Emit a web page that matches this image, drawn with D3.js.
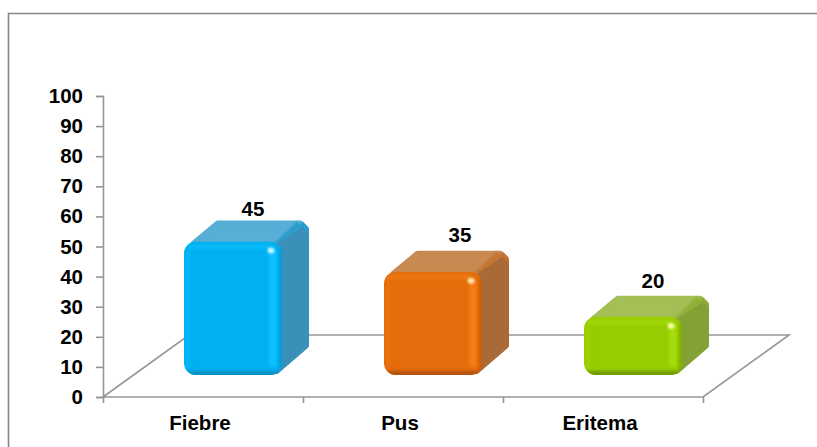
<!DOCTYPE html>
<html><head><meta charset="utf-8">
<script src="https://cdn.jsdelivr.net/npm/d3@7"></script>
<style>
html,body{margin:0;padding:0;background:#fff}
svg{display:block}
text{font-family:"Liberation Sans",Arial,sans-serif;font-weight:700;fill:#000}
</style></head><body>
<script>
const categories = ["Fiebre","Pus","Eritema"];
const values = [45,35,20];
const yTicks = [0,10,20,30,40,50,60,70,80,90,100];
const fronts = ["#00B0F0","#E46C0A","#97CC00"];
const dark = ["#0A8FC4","#B4520A","#6F9A00"];
const light = ["#0CC0FF","#F27C14","#A6DC08"];
const tops = ["#57AED6","#C98A52","#A3BF55"];
const sides = ["#3A90B8","#A96A38","#83A235"];
const edges = ["#2C9CCB","#C4752F","#8FAE38"];
const spots = ["#C8F6FF","#FFE6B0","#F8FFA0"];
const labelNudge = [0,7,0];
const labelLift = [5,9,8];

const W=817,H=447,FS="20.5px";
const svg=d3.select("body").append("svg").attr("width",W).attr("height",H);
const defs=svg.append("defs");
const mk=(id,s)=>defs.append("filter").attr("id",id).attr("x","-100%").attr("y","-100%").attr("width","300%").attr("height","300%").append("feGaussianBlur").attr("stdDeviation",s);
mk("b",1.6);mk("b2",0.9);mk("b3",1.0);

const x=d3.scaleBand().domain(categories).range([103,703]).paddingInner(0.51).paddingOuter(0.255);
const y=d3.scaleLinear().domain([0,100]).range([397,96]);
const floorDx=86,floorDy=-62;
const depthDx=27,depthDy=-21;
const frontDx=30,frontDy=-22,topAdj=2;

svg.append("path").attr("d","M8.5,447V13.5H817").attr("fill","none").attr("stroke","#868686").attr("stroke-width",1.6);

const gc="#969696";
const floor=d3.path();
floor.moveTo(103,y(0));
floor.lineTo(103+floorDx,y(0)+floorDy);
floor.lineTo(703+floorDx,y(0)+floorDy);
floor.lineTo(703,y(0));
floor.closePath();
svg.append("path").attr("d",floor.toString()).attr("fill","none").attr("stroke",gc).attr("stroke-width",1.6);

const yAxis=d3.axisLeft(y).tickValues(yTicks).tickSize(7).tickPadding(13).tickFormat(d3.format("d"));
const gy=svg.append("g").attr("transform","translate(103,0)").call(yAxis);
gy.selectAll("path,line").attr("stroke",gc).attr("stroke-width",1.6);
gy.selectAll("text").style("font-size",FS);
const xAxis=d3.axisBottom(d3.scaleLinear().domain([0,3]).range([103,703])).tickValues([0,1,2,3]).tickSize(6).tickFormat("");
const gx=svg.append("g").attr("transform",`translate(0,${y(0)})`).call(xAxis);
gx.selectAll("path").remove();
gx.selectAll("line").attr("stroke",gc).attr("stroke-width",1.6);
svg.selectAll(".cat").data(categories).join("text").attr("class","cat")
  .attr("x",d=>x(d)+x.bandwidth()/2-3).attr("y",430).attr("text-anchor","middle")
  .style("font-size",FS).text(d=>d);

const bars=svg.selectAll(".bar").data(categories).join("g").attr("class","bar");
bars.each(function(c,i){
  const g=d3.select(this);
  const v=values[i];
  const bx=x(c)+frontDx, bw=x.bandwidth(), bb=y(0)+frontDy, bt=y(v)+frontDy+topAdj, bh=bb-bt;
  const r=12;
  const pt=(a,b)=>a+","+b;
  const yb=bt+depthDy, xr=bx+bw+depthDx;
  const hull="M"+[pt(bx+10,bt+3),pt(bx+depthDx+7,yb+4),pt(xr-9,yb+4),pt(xr-4,yb+9),pt(xr-4,bb+depthDy-9),pt(bx+bw-6,bb-5),pt(bx+10,bb-5)].join("L")+"Z";
  g.append("path").attr("d",hull).attr("fill",tops[i]).attr("stroke",tops[i]).attr("stroke-width",8).attr("stroke-linejoin","round");
  g.append("path").attr("d","M"+[pt(bx+bw-6,bt+4),pt(xr-10,yb+3)].join("L")).attr("stroke",edges[i]).attr("stroke-width",6).attr("fill","none").attr("filter","url(#b3)");
  g.append("path").attr("d","M"+[pt(xr-9,yb+4),pt(xr-4,yb+9),pt(xr-4,yb+16)].join("L")).attr("stroke",edges[i]).attr("stroke-width",8).attr("stroke-linejoin","round").attr("fill","none");
  const sideP="M"+[pt(bx+bw-6,bt+8),pt(xr-7,yb+11),pt(xr-4,yb+14),pt(xr-4,bb+depthDy-9),pt(bx+bw-6,bb-5)].join("L")+"Z";
  g.append("path").attr("d",sideP).attr("fill",sides[i]).attr("stroke",sides[i]).attr("stroke-width",8).attr("stroke-linejoin","round");

  const cf="f"+i;
  defs.append("clipPath").attr("id",cf).append("rect").attr("x",bx).attr("y",bt).attr("width",bw).attr("height",bh).attr("rx",r).attr("ry",r);
  const fg=g.append("g").attr("clip-path",`url(#${cf})`);
  fg.append("rect").attr("x",bx).attr("y",bt).attr("width",bw).attr("height",bh).attr("fill",fronts[i]);
  fg.append("rect").attr("x",bx-3).attr("y",bb-4).attr("width",bw+6).attr("height",8).attr("fill",dark[i]).attr("filter","url(#b)");
  fg.append("rect").attr("x",bx+3).attr("y",bt+3).attr("width",bw-14).attr("height",5).attr("fill",light[i]).attr("opacity",.7).attr("filter","url(#b)");
  fg.append("rect").attr("x",bx+2).attr("y",bt+8).attr("width",4).attr("height",bh-14).attr("fill",light[i]).attr("opacity",.45).attr("filter","url(#b)");
  fg.append("rect").attr("x",bx+bw-13).attr("y",bt+8).attr("width",8).attr("height",bh-16).attr("fill",light[i]).attr("filter","url(#b)");
  fg.append("rect").attr("x",bx+bw-3).attr("y",bt+6).attr("width",5).attr("height",bh).attr("fill",dark[i]).attr("opacity",.6).attr("filter","url(#b)");
  g.append("ellipse").attr("cx",bx+bw-11).attr("cy",bt+9).attr("rx",3.4).attr("ry",3).attr("fill",spots[i]).attr("filter","url(#b2)");
});

svg.selectAll(".val").data(values).join("text").attr("class","val")
  .attr("x",(d,i)=>x(categories[i])+frontDx+69+labelNudge[i])
  .attr("y",(d,i)=>y(d)+frontDy+topAdj+depthDy-labelLift[i])
  .attr("text-anchor","middle").style("font-size",FS).text(d=>d);
</script>
</body></html>
